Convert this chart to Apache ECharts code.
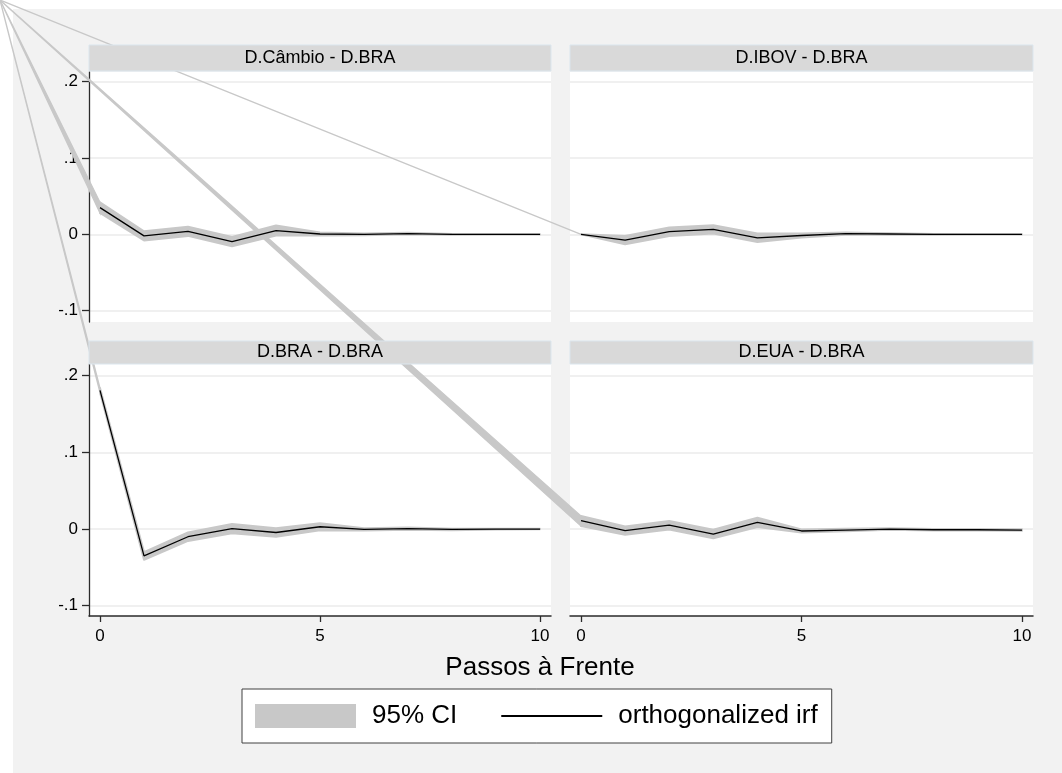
<!DOCTYPE html>
<html>
<head>
<meta charset="utf-8">
<script src="https://cdn.jsdelivr.net/npm/echarts@6/dist/echarts.min.js"></script>
<style>
  html, body { margin: 0; padding: 0; background: #ffffff; }
  #chart { width: 1062px; height: 773px; }
</style>
</head>
<body>
<div id="chart"></div>
<script>
// Forecast horizon (steps ahead)
const steps = [0, 1, 2, 3, 4, 5, 6, 7, 8, 9, 10];

// Panel titles: impulse - response
const panelTitles = ['D.Câmbio - D.BRA', 'D.IBOV - D.BRA', 'D.BRA - D.BRA', 'D.EUA - D.BRA'];

// Orthogonalized IRF and 95% CI bounds, one set per impulse
const irfCambio   = [0.035, -0.002, 0.004, -0.0095, 0.005, 0.0005, 0.0, 0.001, 0.0, 0.0, 0.0];
const lowerCambio = [0.028, -0.008, -0.002, -0.0155, -0.0015, -0.0015, -0.001, 0.0, -0.0005, -0.0003, -0.0002];
const upperCambio = [0.042, 0.004, 0.010, -0.0035, 0.0115, 0.0025, 0.001, 0.002, 0.0005, 0.0003, 0.0002];

const irfIbov   = [0.0, -0.0075, 0.0035, 0.0065, -0.0045, -0.0015, 0.001, 0.0005, 0.0, 0.0, 0.0];
const lowerIbov = [0.0, -0.0130, -0.0020, 0.0010, -0.0100, -0.0040, -0.0005, -0.0005, -0.0005, -0.0003, -0.0002];
const upperIbov = [0.0, -0.0020, 0.0090, 0.0120, 0.0010, 0.0010, 0.0025, 0.0015, 0.0005, 0.0003, 0.0002];

const irfBra   = [0.181, -0.035, -0.010, 0.0005, -0.0045, 0.003, -0.0005, 0.0005, -0.0005, 0.0, 0.0];
const lowerBra = [0.178, -0.040, -0.0155, -0.0055, -0.010, -0.0015, -0.002, -0.001, -0.0015, -0.0005, -0.0003];
const upperBra = [0.184, -0.030, -0.0045, 0.0065, 0.001, 0.0075, 0.001, 0.002, 0.0005, 0.0005, 0.0003];

const irfEua   = [0.011, -0.002, 0.005, -0.0065, 0.0087, -0.0025, -0.0013, 0.0, -0.0009, -0.0009, -0.0013];
const lowerEua = [0.004, -0.0075, -0.0005, -0.012, 0.0027, -0.0045, -0.003, -0.001, -0.002, -0.0018, -0.0022];
const upperEua = [0.017, 0.0035, 0.0105, -0.001, 0.0147, -0.0005, 0.0004, 0.001, 0.0002, 0.0, -0.0004];

// Axis ticks and labels
const yTicks = [-0.1, 0, 0.1, 0.2];
const yTickLabels = ['-.1', '0', '.1', '.2'];
const xTicks = [0, 5, 10];
const xTickLabels = ['0', '5', '10'];
const xTitle = 'Passos à Frente';
const ciLabel = '95% CI';
const irfLabel = 'orthogonalized irf';

const panelSeries = [
  { irf: irfCambio, lower: lowerCambio, upper: upperCambio },
  { irf: irfIbov,   lower: lowerIbov,   upper: upperIbov },
  { irf: irfBra,    lower: lowerBra,    upper: upperBra },
  { irf: irfEua,    lower: lowerEua,    upper: upperEua }
];

// Layout of the 2x2 panel grid
const FONT = "'Liberation Sans', Arial, Helvetica, sans-serif";
const CI_COLOR = '#c8c8c8';
const AXIS_COLOR = '#2b2b2b';
const GRID_LINE = '#ebebeb';
const panelLayout = [
  { left: 89,  top: 72,  width: 462, height: 250, yMin: -0.1148, yMax: 0.2127, yAxis: true,  xAxis: false, strip: { top: 45,  height: 26 } },
  { left: 570, top: 72,  width: 463, height: 250, yMin: -0.1148, yMax: 0.2127, yAxis: false, xAxis: false, strip: { top: 45,  height: 26 } },
  { left: 89,  top: 364, width: 462, height: 252, yMin: -0.1134, yMax: 0.2153, yAxis: true,  xAxis: true,  strip: { top: 341, height: 23 } },
  { left: 570, top: 364, width: 463, height: 252, yMin: -0.1134, yMax: 0.2153, yAxis: false, xAxis: true,  strip: { top: 341, height: 23 } }
];

// Legend key for the IRF: a 2px horizontal rule centred in a 101x24 box
// (the two zero-area corner stubs only fix the icon's bounding box)
const IRF_KEY_ICON = 'path://M0,0L0.01,0Z M0,24L0.01,24Z M0,11L101,11L101,13L0,13Z';

const chart = echarts.init(document.getElementById('chart'));

const grids = panelLayout.map(p => ({
  left: p.left, top: p.top, width: p.width, height: p.height,
  show: true, backgroundColor: '#ffffff', borderWidth: 0, containLabel: false
}));

const xAxes = panelLayout.map((p, i) => ({
  type: 'value', gridIndex: i, min: -0.25, max: 10.25,
  show: p.xAxis,
  axisLine: { show: true, onZero: false, lineStyle: { color: AXIS_COLOR, width: 1.5 } },
  axisTick: { show: true, length: 6, customValues: xTicks, lineStyle: { color: AXIS_COLOR, width: 1.3 } },
  axisLabel: {
    show: true, customValues: xTicks, margin: 12,
    fontSize: 17, fontFamily: FONT, color: '#000',
    formatter: v => xTickLabels[xTicks.indexOf(v)] ?? ''
  },
  splitLine: { show: false }
}));

const yAxes = panelLayout.map((p, i) => ({
  type: 'value', gridIndex: i, min: p.yMin, max: p.yMax,
  axisLine: { show: p.yAxis, onZero: false, lineStyle: { color: AXIS_COLOR, width: 1.3 } },
  axisTick: { show: p.yAxis, length: 7, customValues: yTicks, lineStyle: { color: AXIS_COLOR, width: 1.3 } },
  axisLabel: {
    show: p.yAxis, customValues: yTicks, margin: 11,
    fontSize: 17, fontFamily: FONT, color: '#000',
    formatter: v => {
      const k = yTicks.findIndex(t => Math.abs(t - v) < 1e-9);
      return k >= 0 ? yTickLabels[k] : '';
    }
  },
  splitLine: { show: true, lineStyle: { color: GRID_LINE, width: 1.5 } }
}));

// Confidence band drawn as one filled polygon per panel
function renderBand(params, api) {
  if (params.dataIndexInside !== 0) return null;
  const n = params.dataInsideLength;
  const pts = [];
  for (let j = 0; j < n; j++) pts.push(api.coord([api.value(0, j), api.value(1, j)]));
  for (let j = n - 1; j >= 0; j--) pts.push(api.coord([api.value(0, j), api.value(2, j)]));
  return {
    type: 'polygon',
    shape: { points: pts },
    style: { fill: CI_COLOR, stroke: CI_COLOR, lineWidth: 2, lineJoin: 'round' }
  };
}

const series = [];
panelSeries.forEach((s, i) => {
  series.push({
    name: ciLabel, type: 'custom', xAxisIndex: i, yAxisIndex: i,
    data: steps.map((x, j) => [x, s.lower[j], s.upper[j]]),
    encode: { x: 0, y: [1, 2] },
    itemStyle: { color: CI_COLOR },
    renderItem: renderBand, silent: true, z: 2
  });
  series.push({
    name: irfLabel, type: 'line', xAxisIndex: i, yAxisIndex: i,
    data: steps.map((x, j) => [x, s.irf[j]]),
    symbol: 'none', silent: true, z: 3,
    itemStyle: { color: '#000' },
    lineStyle: { color: '#000', width: 1.3 }
  });
});

chart.setOption({
  animation: false,
  grid: grids,
  xAxis: xAxes,
  yAxis: yAxes,
  legend: {
    left: 242, top: 689,
    orient: 'horizontal',
    itemWidth: 101, itemHeight: 24, itemGap: 44,
    padding: [14, 14, 14, 13],
    backgroundColor: '#ffffff',
    borderColor: '#404040', borderWidth: 1, borderRadius: 0,
    selectedMode: false,
    textStyle: { fontSize: 26, fontFamily: FONT, color: '#000', lineHeight: 24, padding: [0, 0, 0, 11] },
    data: [
      { name: ciLabel, icon: 'rect', itemStyle: { color: CI_COLOR } },
      { name: irfLabel, icon: IRF_KEY_ICON, itemStyle: { color: '#000', borderWidth: 0 } }
    ]
  },
  series: series
});

// Frame pieces: outer background, panel strips, titles, and the band
// segments that run from the canvas origin to each panel's first CI point
const graphics = [{
  type: 'rect', z: -10, silent: true,
  shape: { x: 13, y: 9, width: 1062 - 13, height: 773 - 9 },
  style: { fill: '#f2f2f2' }
}];

panelSeries.forEach((s, i) => {
  const lo = chart.convertToPixel({ gridIndex: i }, [steps[0], s.lower[0]]);
  const hi = chart.convertToPixel({ gridIndex: i }, [steps[0], s.upper[0]]);
  graphics.push({
    type: 'polygon', z: 1, silent: true,
    shape: { points: [[0, 0], lo, hi] },
    style: { fill: CI_COLOR, stroke: CI_COLOR, lineWidth: 1.3 }
  });
});

panelLayout.forEach((p, i) => {
  graphics.push({
    type: 'rect', z: 5, silent: true,
    shape: { x: p.left, y: p.strip.top, width: p.width, height: p.strip.height },
    style: { fill: '#d9d9d9', stroke: '#dbe6ee', lineWidth: 1 }
  });
  graphics.push({
    type: 'text', z: 6, silent: true,
    x: p.left + p.width / 2, y: p.strip.top + p.strip.height / 2,
    style: { text: panelTitles[i], fontSize: 18, fontFamily: FONT, fill: '#000', align: 'center', verticalAlign: 'middle' }
  });
});

graphics.push({
  type: 'text', z: 6, silent: true,
  x: 540, y: 668,
  style: { text: xTitle, fontSize: 26, fontFamily: FONT, fill: '#000', align: 'center', verticalAlign: 'middle' }
});

chart.setOption({ graphic: graphics });
</script>
</body>
</html>
